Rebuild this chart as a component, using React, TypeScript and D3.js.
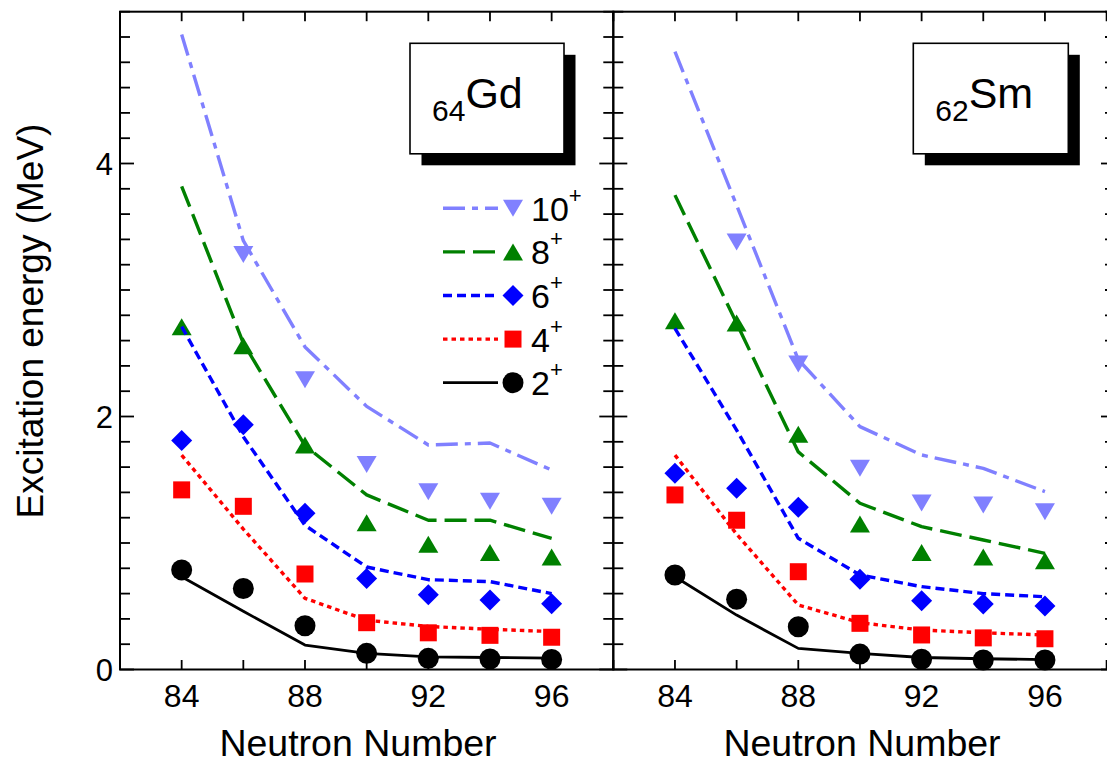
import React from "react";
import * as d3 from "d3";

// Neutron numbers of the isotopes shown
const neutrons = [84, 86, 88, 90, 92, 94, 96];
const xTickValues = [82, 84, 86, 88, 90, 92, 94, 96, 98];
const xTickLabels = [84, 88, 92, 96];
const yMajorTicks = [0, 2, 4];

// Gd (Z = 64): experimental levels (markers) and calculated levels (lines), MeV
const gdExp2 = [0.787, 0.64, 0.346, 0.128, 0.088, 0.083, 0.08];
const gdExp4 = [1.42, 1.29, 0.755, 0.37, 0.29, 0.27, 0.255];
const gdExp6 = [1.81, 1.935, 1.235, 0.72, 0.59, 0.55, 0.52];
const gdExp8 = [2.71, 2.56, 1.775, 1.16, 0.99, 0.925, 0.89];
const gdExp10 = [null, 3.28, 2.29, 1.62, 1.405, 1.33, 1.29];

const gdTh2 = [0.733, 0.46, 0.193, 0.128, 0.1, 0.095, 0.09];
const gdTh4 = [1.695, 1.11, 0.563, 0.39, 0.34, 0.318, 0.3];
const gdTh6 = [2.71, 1.84, 1.14, 0.81, 0.71, 0.695, 0.6];
const gdTh8 = [3.82, 2.58, 1.77, 1.38, 1.18, 1.18, 1.037];
const gdTh10 = [5.02, 3.39, 2.55, 2.08, 1.775, 1.79, 1.577];

// Sm (Z = 62)
const smExp2 = [0.747, 0.555, 0.338, 0.122, 0.081, 0.075, 0.075];
const smExp4 = [1.38, 1.18, 0.773, 0.365, 0.273, 0.25, 0.243];
const smExp6 = [1.551, 1.432, 1.282, 0.713, 0.544, 0.518, 0.502];
const smExp8 = [2.757, 2.74, 1.86, 1.15, 0.925, 0.89, 0.86];
const smExp10 = [null, 3.38, 2.415, 1.59, 1.316, 1.3, 1.247];

const smTh2 = [0.733, 0.43, 0.167, 0.128, 0.095, 0.085, 0.078];
const smTh4 = [1.695, 1.07, 0.51, 0.37, 0.312, 0.29, 0.273];
const smTh6 = [2.697, 1.893, 1.037, 0.747, 0.655, 0.6, 0.575];
const smTh8 = [3.75, 2.737, 1.72, 1.314, 1.129, 1.024, 0.918];
const smTh10 = [4.884, 3.67, 2.45, 1.92, 1.696, 1.59, 1.406];

// Spin labels, top to bottom in the legend
const spins = ["10", "8", "6", "4", "2"];

type Shape = "down" | "up" | "diamond" | "square" | "circle";
interface Style {
  color: string;
  dash: string;
  width: number;
  shape: Shape;
}
const styles: Record<string, Style> = {
  "10": { color: "#8080ff", dash: "22,7,6,7", width: 3.4, shape: "down" },
  "8": { color: "#008000", dash: "22,8", width: 3.4, shape: "up" },
  "6": { color: "#0000ff", dash: "9,5", width: 3.4, shape: "diamond" },
  "4": { color: "#ff0000", dash: "4.5,4", width: 3.4, shape: "square" },
  "2": { color: "#000000", dash: "none", width: 2.8, shape: "circle" },
};

const FONT = "'Liberation Sans', Arial, Helvetica, sans-serif";

const yScale = d3.scaleLinear().domain([0, 5.2]).range([669.5, 11.7]);
const pxPerN = (613.3 - 120) / 16;

interface Panel {
  left: number;
  right: number;
  symbol: string;
  z: string;
  box: [number, number, number, number];
  titleX: number;
  exp: Record<string, (number | null)[]>;
  th: Record<string, number[]>;
  legend: boolean;
}

const panels: Panel[] = [
  {
    left: 120,
    right: 613.3,
    symbol: "Gd",
    z: "64",
    box: [410, 43.3, 154, 110.5],
    titleX: 358,
    exp: { "10": gdExp10, "8": gdExp8, "6": gdExp6, "4": gdExp4, "2": gdExp2 },
    th: { "10": gdTh10, "8": gdTh8, "6": gdTh6, "4": gdTh4, "2": gdTh2 },
    legend: true,
  },
  {
    left: 613.3,
    right: 1115,
    symbol: "Sm",
    z: "62",
    box: [913.3, 43.3, 155, 110.5],
    titleX: 862,
    exp: { "10": smExp10, "8": smExp8, "6": smExp6, "4": smExp4, "2": smExp2 },
    th: { "10": smTh10, "8": smTh8, "6": smTh6, "4": smTh4, "2": smTh2 },
    legend: false,
  },
];

function markerPath(shape: Shape, cx: number, cy: number): string {
  switch (shape) {
    case "down":
      return `M${cx - 10},${cy - 8.5}L${cx + 10},${cy - 8.5}L${cx},${cy + 8.5}Z`;
    case "up":
      return `M${cx - 10},${cy + 8.5}L${cx + 10},${cy + 8.5}L${cx},${cy - 8.5}Z`;
    case "diamond":
      return `M${cx},${cy - 10.5}L${cx + 10.5},${cy}L${cx},${cy + 10.5}L${cx - 10.5},${cy}Z`;
    case "square":
      return `M${cx - 8.5},${cy - 8.5}h17v17h-17Z`;
    default:
      return `M${cx + 10.5},${cy}A10.5,10.5 0 1,1 ${cx - 10.5},${cy}A10.5,10.5 0 1,1 ${cx + 10.5},${cy}Z`;
  }
}

function PanelView({ p }: { p: Panel }) {
  const x = d3
    .scaleLinear()
    .domain([82, 82 + (p.right - p.left) / pxPerN])
    .range([p.left, p.right]);
  const top = yScale(5.2);
  const bottom = yScale(0);
  const minorY = d3.range(0, 5.2001, 0.2).map((v) => +v.toFixed(1));
  const line = d3
    .line<number>()
    .x((_, i) => x(neutrons[i]))
    .y((d) => yScale(d));

  const [bx, by, bw, bh] = p.box;

  return (
    <g>
      {/* experimental levels */}
      {spins.map((s) =>
        p.exp[s].map((v, i) =>
          v == null ? null : (
            <path
              key={s + "-" + i}
              d={markerPath(styles[s].shape, x(neutrons[i]), yScale(v))}
              fill={styles[s].color}
            />
          )
        )
      )}
      {/* calculated levels */}
      {spins.map((s) => (
        <path
          key={"l" + s}
          d={line(p.th[s]) || ""}
          fill="none"
          stroke={styles[s].color}
          strokeWidth={styles[s].width}
          strokeDasharray={styles[s].dash}
          strokeLinejoin="round"
        />
      ))}

      {/* frame */}
      <rect
        x={p.left}
        y={top}
        width={p.right - p.left}
        height={bottom - top}
        fill="none"
        stroke="#000"
        strokeWidth={2}
      />
      {/* vertical ticks, both sides, pointing inward */}
      {minorY.map((v) => {
        const major = Math.abs(v % 2) < 1e-6;
        const len = major ? 14 : 10;
        const yy = yScale(v);
        return (
          <g key={"yt" + v}>
            <line x1={p.left} x2={p.left + len} y1={yy} y2={yy} stroke="#000" strokeWidth={1.8} />
            <line x1={p.right} x2={p.right - len} y1={yy} y2={yy} stroke="#000" strokeWidth={1.8} />
          </g>
        );
      })}
      {/* horizontal ticks, top and bottom */}
      {xTickValues.map((n) => (
        <g key={"xt" + n}>
          <line x1={x(n)} x2={x(n)} y1={bottom} y2={bottom - 9.5} stroke="#000" strokeWidth={1.8} />
          <line x1={x(n)} x2={x(n)} y1={top} y2={top + 9.5} stroke="#000" strokeWidth={1.8} />
        </g>
      ))}
      {xTickLabels.map((n) => (
        <text
          key={"xl" + n}
          x={x(n)}
          y={707}
          textAnchor="middle"
          fontFamily={FONT}
          fontSize={32}
          fill="#000"
        >
          {n}
        </text>
      ))}
      <text x={p.titleX} y={756} textAnchor="middle" fontFamily={FONT} fontSize={37.5} fill="#000">
        Neutron Number
      </text>

      {/* element label box with drop shadow */}
      <rect x={bx + 11.5} y={by + 11.5} width={bw} height={bh} fill="#000" />
      <rect x={bx} y={by} width={bw} height={bh} fill="#fff" stroke="#000" strokeWidth={1.6} />
      <text x={bx + 22} y={by + 77.5} fontFamily={FONT} fill="#000">
        <tspan fontSize={30}>{p.z}</tspan>
        <tspan fontSize={43} dy={-13}>
          {p.symbol}
        </tspan>
      </text>

      {p.legend &&
        spins.map((s, k) => {
          const ly = 208.3 + k * 43.6;
          const st = styles[s];
          return (
            <g key={"lg" + s}>
              <line
                x1={443}
                x2={498}
                y1={ly}
                y2={ly}
                stroke={st.color}
                strokeWidth={st.width}
                strokeDasharray={st.dash}
              />
              <path d={markerPath(st.shape, 513, ly)} fill={st.color} />
              <text x={531} y={ly + 12.5} fontFamily={FONT} fill="#000">
                <tspan fontSize={34}>{s}</tspan>
                <tspan fontSize={22} dy={-18}>
                  +
                </tspan>
              </text>
            </g>
          );
        })}
    </g>
  );
}

export default function App() {
  return (
    <svg
      width={1107}
      height={763}
      viewBox="0 0 1107 763"
      style={{ position: "absolute", left: 0, top: 0, background: "#fff" }}
    >
      <rect x={0} y={0} width={1107} height={763} fill="#fff" />
      {panels.map((p) => (
        <PanelView key={p.symbol} p={p} />
      ))}
      {yMajorTicks.map((v) => (
        <text
          key={"yl" + v}
          x={113}
          y={yScale(v)}
          dy="0.36em"
          textAnchor="end"
          fontFamily={FONT}
          fontSize={31}
          fill="#000"
        >
          {v}
        </text>
      ))}
      <text
        transform="translate(43,321) rotate(-90)"
        textAnchor="middle"
        fontFamily={FONT}
        fontSize={37}
        fill="#000"
      >
        Excitation energy (MeV)
      </text>
    </svg>
  );
}
